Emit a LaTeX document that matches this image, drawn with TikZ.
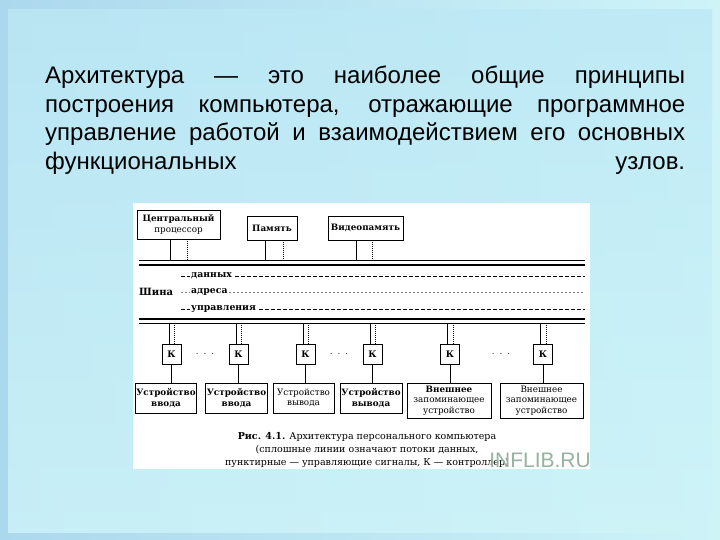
\documentclass[tikz,border=0pt]{standalone}
\usepackage{fontspec}
\setmainfont{DejaVu Serif}
\newfontfamily\slidefont{Liberation Sans}
\usetikzlibrary{positioning}

\definecolor{slideblue}{RGB}{172,216,238}
\definecolor{slidecyan}{RGB}{206,244,248}
\definecolor{paneltop}{RGB}{188,232,245}
\definecolor{wmark}{RGB}{150,178,160}

\tikzset{
  unitbox/.style={draw, line width=0.9pt, fill=white, inner sep=1pt, align=center,
    font=\fontsize{8.8}{10.5}\selectfont},
  kbox/.style={draw, line width=0.9pt, fill=white, minimum width=19pt,
    minimum height=20pt, inner sep=0pt, font=\bfseries\fontsize{9}{10}\selectfont},
  datal/.style={line width=0.8pt},
  ctrll/.style={line width=0.8pt, dash pattern=on 1pt off 1pt},
  buslab/.style={fill=white, inner sep=1pt, anchor=west,
    font=\bfseries\fontsize{9.3}{10}\selectfont},
  slideline/.style={anchor=base west, inner sep=0pt,
    font=\slidefont\fontsize{24}{28}\selectfont}
}

\begin{document}
\begin{tikzpicture}[x=1pt, y=-1pt]

    % slide
    \useasboundingbox (0,0) rectangle (720,540);
    \shade[left color=slideblue, right color=slidecyan] (0,0) rectangle (720,540);
    \shade[top color=paneltop, bottom color=slidecyan, opacity=0.8] (8,10) rectangle (712,532);

    % text
    \node[slideline] (line1) at (45,84) {\makebox[640pt][s]{Архитектура — это наиболее общие принципы}};
    \node[slideline] (line2) at (45,113) {\makebox[640pt][s]{построения компьютера, отражающие программное}};
    \node[slideline] (line3) at (45,141) {\makebox[640pt][s]{управление работой и взаимодействием его основных}};
    \node[slideline] (line4) at (45,170) {\makebox[640pt][s]{функциональных узлов.}};

    % figure
    \fill[white] (133,203) rectangle (590,469);

    %% top units
    \node[unitbox, minimum width=83pt, minimum height=29pt] (cpu) at (178.5,224.5)
        {\textbf{Центральный}\\процессор};
    \node[unitbox, minimum width=50pt, minimum height=24pt] (mem) at (272,228) {\textbf{Память}};
    \node[unitbox, minimum width=75pt, minimum height=24pt] (vmem) at (365.5,228) {\textbf{Видеопамять}};

    %% bus
    \coordinate (bustop) at (139,260);
    \coordinate (busbot) at (139,323);
    \draw[line width=0.8pt] (bustop) -- (585,260);
    \draw[line width=1.8pt] (139,265) -- (585,265);
    \draw[line width=1.8pt] (139,319) -- (585,319);
    \draw[line width=0.8pt] (busbot) -- (585,323);

    \draw[line width=0.8pt, dash pattern=on 3.5pt off 2.5pt] (181,276) -- (585,276);
    \draw[line width=0.6pt, gray, dash pattern=on 2pt off 2pt] (181,292) -- (585,292);
    \draw[line width=0.8pt, dash pattern=on 3.5pt off 2.5pt] (181,309) -- (585,309);
    \node[buslab] (bdata) at (190,276) {данных};
    \node[buslab] (baddr) at (190,292) {адреса};
    \node[buslab] (bctrl) at (190,309) {управления};
    \node[anchor=west, inner sep=0pt, font=\bfseries\fontsize{10}{10}\selectfont] (bus) at (139,292) {Шина};

    %% units to bus
    \foreach \n/\a/\b in {cpu/-8.5/8.5, mem/-7/11, vmem/-9.5/6.5} {
        \draw[datal] ([xshift=\a pt]\n.south) -- ([xshift=\a pt]\n.south |- bustop);
        \draw[ctrll] ([xshift=\b pt]\n.south) -- ([xshift=\b pt]\n.south |- bustop);
    }

    %% controllers
    \foreach \i/\x in {1/171.5, 2/238.5, 3/305.5, 4/372.5, 5/450, 6/543}
        \node[kbox] (k\i) at (\x,354) {К};

    \node (dots1) at (205,354) {$\cdot\;\cdot\;\cdot$};
    \node (dots2) at (339,354) {$\cdot\;\cdot\;\cdot$};
    \node (dots3) at (501,354) {$\cdot\;\cdot\;\cdot$};

    %% devices
    \node[unitbox, minimum width=60pt, minimum height=30pt] (dev1) at (166,398)
        {\textbf{Устройство}\\\textbf{ввода}};
    \node[unitbox, minimum width=61pt, minimum height=30pt] (dev2) at (236.5,398)
        {\textbf{Устройство}\\\textbf{ввода}};
    \node[unitbox, minimum width=61pt, minimum height=30pt] (dev3) at (303.5,398)
        {Устройство\\вывода};
    \node[unitbox, minimum width=62pt, minimum height=30pt] (dev4) at (371,398)
        {\textbf{Устройство}\\\textbf{вывода}};
    \node[unitbox, minimum width=84pt, minimum height=35pt] (dev5) at (449,400.5)
        {\textbf{Внешнее}\\запоминающее\\устройство};
    \node[unitbox, minimum width=83pt, minimum height=35pt] (dev6) at (541.5,400.5)
        {Внешнее\\запоминающее\\устройство};

    %% bus to controllers to devices
    \foreach \i in {1,...,6} {
        \draw[datal] ([xshift=-2.5pt]k\i.north |- busbot) -- ([xshift=-2.5pt]k\i.north);
        \draw[ctrll] ([xshift=3pt]k\i.north |- busbot) -- ([xshift=3pt]k\i.north);
        \draw[datal] (k\i.south) -- (k\i.south |- dev\i.north);
    }

    % caption
    \node[align=center, inner sep=0pt, font=\fontsize{9.5}{13.3}\selectfont] (caption) at (367,450)
        {\textbf{Рис. 4.1.} Архитектура персонального компьютера\\
         (сплошные линии означают потоки данных,\\
         пунктирные — управляющие сигналы, К — контроллер)};

    % watermark
    \node[anchor=east, inner sep=0pt, text=wmark, font=\slidefont\fontsize{21}{21}\selectfont] (wm) at (591,460) {INFLIB.RU};

\end{tikzpicture}
\end{document}
